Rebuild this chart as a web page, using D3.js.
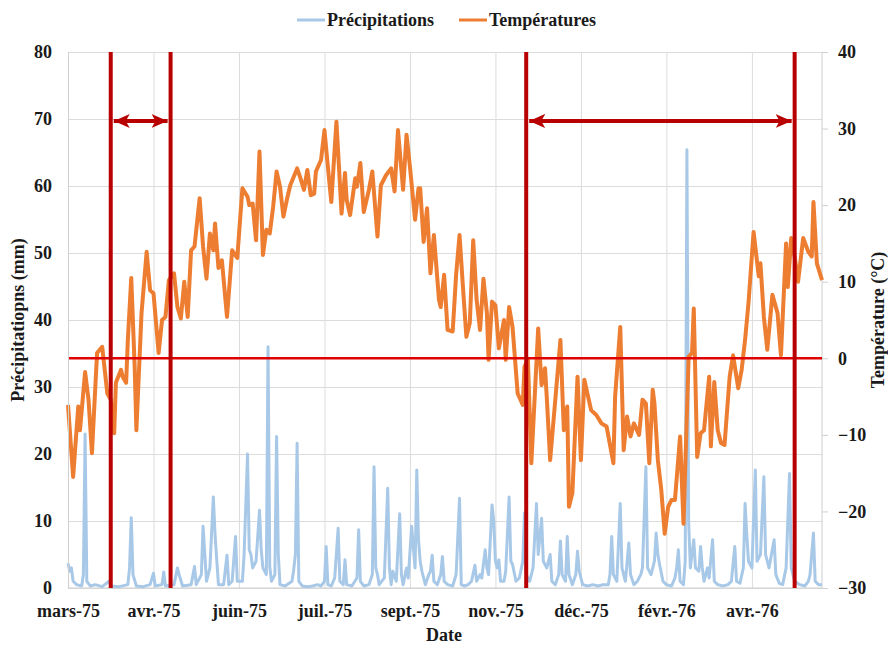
<!DOCTYPE html>
<html>
<head>
<meta charset="utf-8">
<script src="https://cdn.jsdelivr.net/npm/d3@7"></script>
<style>
  body { margin: 0; background: #fff; }
  svg { display: block; }
  text { font-family: "Liberation Serif", "Times New Roman", serif; font-weight: bold; fill: #1a1a1a; }
</style>
</head>
<body>
<svg id="chart" width="888" height="646"></svg>
<script>
// series start (day 0) and length of the date axis
const startDate = new Date(1975, 2, 1);
const spanDays = 441;

// date axis: one label every 50 days, as in the original sheet
const tickStepDays = 50;
const tickLabels = ["mars-75", "avr.-75", "juin-75", "juil.-75", "sept.-75", "nov.-75", "déc.-75", "févr.-76", "avr.-76"];
const precipTicks = [0, 10, 20, 30, 40, 50, 60, 70, 80];
const tempTicks = [-30, -20, -10, 0, 10, 20, 30, 40];

// daily temperature (°C), [day since start, value]
const tempData = [
  [0, -6.1], [3, -15.5], [6, -6.3], [7, -9.4], [10, -1.8], [12, -5.4], [14, -12.4], [17, 0.7], [20, 1.5],
  [23, -4.6], [25, -5.4], [27, -9.8], [28, -3.2], [31, -1.5], [32, -2.4], [34, -3.2], [35, 2.4], [37, 10.5],
  [39, -1.1], [40, -9.4], [43, 5.9], [46, 13.9], [48, 8.9], [50, 8.5], [53, 0.7], [55, 5.0], [57, 5.4],
  [59, 10.2], [62, 11.1], [64, 6.7], [66, 5.2], [68, 10.0], [70, 5.4], [72, 14.1], [74, 14.6], [77, 20.9],
  [79, 14.6], [81, 10.4], [83, 16.3], [85, 14.1], [86, 17.6], [88, 11.8], [90, 12.8], [93, 5.4], [96, 14.1],
  [99, 13.1], [102, 22.2], [105, 21.1], [106, 20.0], [108, 20.2], [110, 15.4], [112, 27.0], [114, 13.5],
  [116, 16.8], [118, 16.3], [120, 19.8], [122, 24.4], [124, 22.4], [126, 18.5], [128, 20.7], [130, 22.6],
  [134, 24.8], [136, 23.5], [138, 22.0], [140, 24.6], [142, 21.3], [144, 21.5], [145, 24.4], [148, 25.9],
  [150, 29.8], [152, 25.0], [154, 20.4], [157, 30.9], [160, 18.9], [162, 24.2], [163, 20.7], [165, 18.7],
  [168, 23.5], [169, 22.4], [171, 25.5], [173, 19.1], [176, 22.0], [178, 24.4], [181, 15.9], [183, 22.6],
  [186, 23.9], [189, 24.8], [191, 21.8], [193, 29.8], [196, 22.0], [198, 29.2], [200, 25.0], [203, 18.1],
  [205, 22.2], [206, 22.2], [208, 15.2], [210, 19.6], [212, 11.1], [214, 16.1], [217, 7.6], [218, 6.7],
  [220, 10.9], [222, 3.7], [225, 3.5], [227, 10.9], [229, 16.1], [231, 9.3], [233, 2.8], [235, 4.6],
  [237, 15.4], [239, 7.6], [241, 3.7], [243, 10.4], [245, 5.9], [246, -0.2], [248, 7.4], [250, 6.9],
  [252, 1.3], [255, 5.0], [256, -0.2], [258, 6.7], [260, 4.1], [263, -4.6], [266, -6.1], [267, -1.1],
  [269, -0.2], [271, -13.7], [275, 3.9], [277, -3.5], [279, -1.3], [280, -5.0], [282, -13.3], [288, 2.4],
  [290, -9.4], [292, -6.3], [293, -19.4], [295, -17.6], [298, -2.4], [300, -13.3], [302, -2.8], [306, -6.8],
  [309, -7.4], [312, -8.5], [315, -8.9], [319, -13.7], [320, -5.0], [323, 4.1], [325, -12.0], [327, -7.6],
  [329, -10.2], [331, -8.5], [334, -10.0], [336, -5.4], [338, -5.9], [340, -13.7], [342, -4.1], [343, -5.9],
  [345, -13.3], [347, -17.2], [349, -22.9], [351, -19.4], [353, -18.5], [355, -18.5], [358, -10.2],
  [360, -21.6], [363, 0.2], [365, 0.7], [366, 6.5], [368, -12.9], [370, -9.8], [372, -9.4], [375, -2.4],
  [376, -11.5], [378, -3.1], [380, -9.4], [382, -11.1], [384, -11.3], [387, -2.4], [389, 0.4], [392, -3.9],
  [394, -1.5], [396, 2.4], [398, 7.2], [401, 16.5], [404, 10.7], [405, 12.4], [407, 5.4], [409, 1.1],
  [412, 8.3], [415, 5.9], [417, 0.4], [420, 15.0], [421, 9.3], [423, 15.7], [425, 13.3], [427, 10.0],
  [430, 15.7], [433, 13.9], [435, 13.3], [436, 20.4], [438, 12.4], [441, 10.2]
];

// daily precipitation (mm), [day since start, value]
const precipData = [
  [0, 3.7], [1, 2.5], [2, 3], [3, 1], [5, 0.5], [8, 0.3], [9, 2], [10, 23], [11, 1], [13, 0.3], [16, 0.5],
  [20, 0.2], [24, 1], [25, 0.3], [30, 0.2], [35, 0.5], [36, 3], [37, 10.5], [38, 2], [40, 0.3], [44, 0.2],
  [48, 0.5], [50, 2.2], [51, 0.3], [55, 0.5], [56, 2.4], [57, 0.3], [62, 0.5], [64, 3], [65, 2], [67, 0.3],
  [72, 0.5], [74, 3.2], [75, 0.5], [78, 2], [79, 9.2], [81, 1], [83, 3], [85, 13.6], [86, 8], [87, 4.2],
  [88, 0.5], [91, 0.5], [93, 4.9], [94, 0.5], [96, 1], [98, 7.7], [99, 1], [102, 1], [103, 5], [105, 20],
  [106, 5.7], [107, 5], [108, 3], [110, 4], [112, 11.6], [113, 5.7], [114, 3], [116, 2], [117, 36],
  [118, 3.2], [119, 1], [121, 2], [122, 22.6], [123, 5], [124, 0.5], [127, 0.3], [131, 1], [132, 2.7],
  [133, 5], [134, 21.6], [135, 1], [137, 0.3], [140, 0.2], [143, 0.3], [146, 0.5], [148, 0.3], [150, 1],
  [151, 6.2], [152, 0.5], [154, 0.3], [156, 1.5], [158, 8.9], [159, 1], [161, 0.5], [162, 4.2], [163, 0.5],
  [166, 0.3], [169, 1.5], [170, 8.7], [171, 1], [173, 0.3], [176, 0.5], [178, 2], [179, 18.1], [180, 3],
  [181, 2], [182, 0.5], [185, 1.5], [187, 14.9], [188, 3], [189, 0.5], [190, 2.5], [192, 1], [194, 11.1],
  [195, 2], [196, 0.5], [198, 3], [199, 1.5], [201, 9.2], [202, 6], [203, 3], [204, 17.6], [205, 7.2],
  [206, 4], [207, 2.5], [209, 0.5], [211, 2], [212, 2.5], [213, 4.9], [214, 1], [216, 0.5], [218, 2],
  [219, 4.7], [220, 1], [222, 0.5], [225, 0.3], [227, 2], [229, 13.4], [230, 0.5], [232, 0.3], [234, 0.5],
  [236, 1], [238, 3.4], [239, 1], [241, 2], [242, 1.5], [244, 5.7], [245, 3], [246, 2], [248, 12.4],
  [249, 10.1], [250, 4], [251, 3], [252, 4.2], [253, 1], [255, 1], [256, 2.5], [258, 13.6], [259, 4],
  [260, 3.5], [262, 1], [264, 1.5], [266, 4], [267, 11.2], [268, 2], [270, 1], [272, 3], [274, 12.6],
  [275, 5], [277, 10.4], [278, 4], [280, 3], [282, 5], [283, 1], [285, 0.5], [287, 2], [288, 7], [289, 2],
  [291, 1], [292, 7.7], [293, 2], [295, 0.5], [297, 2], [298, 5.5], [299, 2.5], [301, 0.5], [304, 0.3],
  [307, 0.5], [310, 0.3], [313, 0.5], [316, 0.5], [317, 2], [318, 7.7], [319, 2], [321, 1], [323, 12.6],
  [324, 3], [326, 1], [328, 6.7], [329, 2], [331, 0.5], [333, 1], [335, 2], [336, 3], [338, 18.1], [339, 3],
  [341, 2], [343, 4], [344, 8.2], [345, 5], [346, 3.5], [348, 1], [350, 0.5], [353, 0.3], [355, 1.5],
  [356, 3], [357, 5.7], [358, 1], [360, 0.5], [361, 4], [362, 65.4], [363, 10], [364, 3], [366, 7.2],
  [367, 3], [369, 2.5], [370, 6.2], [371, 3], [372, 1], [374, 3], [375, 1.5], [377, 7.2], [378, 1],
  [380, 0.5], [383, 0.3], [386, 0.5], [388, 1], [390, 6.2], [391, 1], [393, 0.7], [395, 3], [396, 12.6],
  [397, 8], [398, 4], [400, 3], [402, 17.6], [403, 4], [405, 5], [407, 16.6], [408, 5], [410, 3],
  [413, 7.2], [414, 2], [416, 0.7], [418, 0.5], [420, 3], [422, 17.1], [423, 3], [425, 1], [428, 0.5],
  [431, 0.3], [433, 1], [434, 2], [436, 8.2], [437, 1], [439, 0.5], [441, 0.5]
];

// frost period markers (days since start) and arrow level (mm on left axis)
const markerDays = [25, 60, 268, 425];
const arrowSpans = [[0, 1], [2, 3]];
const arrowLevel = 69.7;

const width = 888, height = 646;
const margin = { top: 52, right: 66, bottom: 58, left: 68 };

const dayToDate = d => d3.timeDay.offset(startDate, d);

const svg = d3.select('#chart');

const x = d3.scaleTime()
  .domain([startDate, dayToDate(spanDays)])
  .range([margin.left, width - margin.right]);

const yP = d3.scaleLinear()
  .domain([0, 80])
  .range([height - margin.bottom, margin.top]);

const yT = d3.scaleLinear()
  .domain([-30, 40])
  .range([height - margin.bottom, margin.top]);

const tickDates = tickLabels.map((_, i) => dayToDate(i * tickStepDays));

// gridlines
svg.append('g')
  .attr('transform', `translate(${margin.left},0)`)
  .call(d3.axisLeft(yP).tickValues(precipTicks).tickSize(-(width - margin.left - margin.right)).tickFormat(''))
  .call(g => g.select('.domain').remove())
  .call(g => g.selectAll('line').attr('stroke', '#dcdcdc'));

svg.append('g')
  .attr('transform', `translate(0,${height - margin.bottom})`)
  .call(d3.axisBottom(x).tickValues(tickDates).tickSize(-(height - margin.top - margin.bottom)).tickFormat(''))
  .call(g => g.select('.domain').remove())
  .call(g => g.selectAll('line').attr('stroke', '#dcdcdc'));

// plot frame sides
svg.append('line')
  .attr('x1', x.range()[1]).attr('x2', x.range()[1])
  .attr('y1', margin.top).attr('y2', height - margin.bottom)
  .attr('stroke', '#cfcfcf');
svg.append('line')
  .attr('x1', x.range()[0]).attr('x2', x.range()[1])
  .attr('y1', yP(0)).attr('y2', yP(0))
  .attr('stroke', '#cfcfcf');

// precipitation line
svg.append('path')
  .datum(precipData)
  .attr('fill', 'none')
  .attr('stroke', '#a8c8e8')
  .attr('stroke-width', 3)
  .attr('stroke-linejoin', 'round')
  .attr('d', d3.line().x(d => x(dayToDate(d[0]))).y(d => yP(d[1])));

// temperature line
svg.append('path')
  .datum(tempData)
  .attr('fill', 'none')
  .attr('stroke', '#ed7d31')
  .attr('stroke-width', 4)
  .attr('stroke-linejoin', 'round')
  .attr('d', d3.line().x(d => x(dayToDate(d[0]))).y(d => yT(d[1])));

// 0 °C line
svg.append('line')
  .attr('x1', x.range()[0]).attr('x2', x.range()[1])
  .attr('y1', yT(0)).attr('y2', yT(0))
  .attr('stroke', '#e00000')
  .attr('stroke-width', 2.5);

// vertical markers
svg.selectAll('.marker')
  .data(markerDays)
  .enter().append('line')
  .attr('class', 'marker')
  .attr('x1', d => x(dayToDate(d))).attr('x2', d => x(dayToDate(d)))
  .attr('y1', margin.top).attr('y2', height - margin.bottom)
  .attr('stroke', '#b80000')
  .attr('stroke-width', 4);

// arrows
const defs = svg.append('defs');
['start', 'end'].forEach(k => {
  defs.append('marker')
    .attr('id', 'arrow-' + k)
    .attr('markerUnits', 'userSpaceOnUse')
    .attr('viewBox', '0 0 16 14')
    .attr('markerWidth', 16).attr('markerHeight', 14)
    .attr('refX', k === 'end' ? 16 : 0).attr('refY', 7)
    .attr('orient', 'auto')
    .append('path')
    .attr('d', k === 'end' ? 'M0,0L16,7L0,14L4,7Z' : 'M16,0L0,7L16,14L12,7Z')
    .attr('fill', '#b80000');
});

svg.selectAll('.arrow')
  .data(arrowSpans)
  .enter().append('line')
  .attr('class', 'arrow')
  .attr('x1', d => x(dayToDate(markerDays[d[0]])) + 3)
  .attr('x2', d => x(dayToDate(markerDays[d[1]])) - 3)
  .attr('y1', yP(arrowLevel)).attr('y2', yP(arrowLevel))
  .attr('stroke', '#b80000')
  .attr('stroke-width', 4)
  .attr('marker-start', 'url(#arrow-start)')
  .attr('marker-end', 'url(#arrow-end)');

// axes labels
const leftAxis = svg.append('g')
  .attr('transform', `translate(${margin.left},0)`)
  .call(d3.axisLeft(yP).tickValues(precipTicks).tickSize(0).tickPadding(16));
leftAxis.select('.domain').attr('stroke', '#cfcfcf');

const rightAxis = svg.append('g')
  .attr('transform', `translate(${width - margin.right},0)`)
  .call(d3.axisRight(yT).tickValues(tempTicks).tickSize(6).tickPadding(10));
rightAxis.select('.domain').remove();
rightAxis.selectAll('line').attr('stroke', '#cfcfcf');

const bottomAxis = svg.append('g')
  .attr('transform', `translate(0,${height - margin.bottom})`)
  .call(d3.axisBottom(x).tickValues(tickDates).tickSize(0).tickPadding(16)
    .tickFormat((d, i) => tickLabels[i]));
bottomAxis.select('.domain').remove();

svg.selectAll('.tick text')
  .style('font-family', '"Liberation Serif", "Times New Roman", serif')
  .style('font-weight', 'bold')
  .style('font-size', '18px')
  .attr('fill', '#1a1a1a');

// axis titles
svg.append('text')
  .attr('transform', 'translate(24,320) rotate(-90)')
  .attr('text-anchor', 'middle')
  .style('font-size', '18px')
  .text('Précipitatiopns (mm)');

svg.append('text')
  .attr('transform', 'translate(884,320) rotate(-90)')
  .attr('text-anchor', 'middle')
  .style('font-size', '18px')
  .text('Température (°C)');

svg.append('text')
  .attr('x', 444).attr('y', 641)
  .attr('text-anchor', 'middle')
  .style('font-size', '18px')
  .text('Date');

// legend
const legendItems = [
  { label: 'Précipitations', color: '#a8c8e8', x: 297 },
  { label: 'Températures', color: '#ed7d31', x: 459 }
];
const legend = svg.selectAll('.legend')
  .data(legendItems)
  .enter().append('g')
  .attr('class', 'legend')
  .attr('transform', d => `translate(${d.x},20)`);
legend.append('line')
  .attr('x1', 0).attr('x2', 28)
  .attr('stroke', d => d.color)
  .attr('stroke-width', 3);
legend.append('text')
  .attr('x', 30).attr('y', 6)
  .style('font-size', '18px')
  .text(d => d.label);
</script>
</body>
</html>
